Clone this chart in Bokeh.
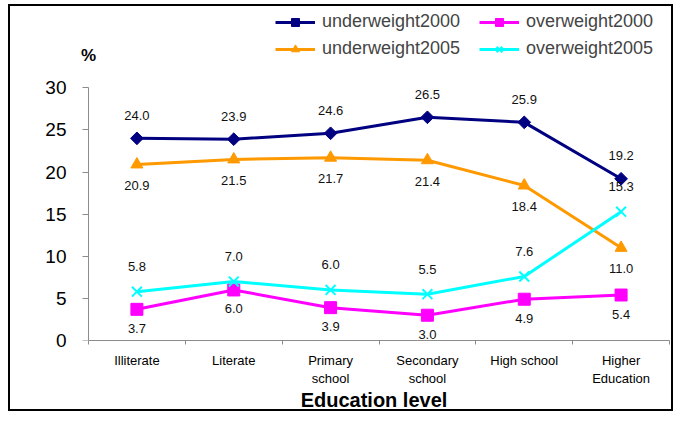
from bokeh.plotting import figure
from bokeh.models import (Range1d, FixedTicker, Legend, LegendItem, ColumnDataSource, LinearAxis)
from bokeh.core.properties import value
from bokeh.embed import file_html
from bokeh.resources import INLINE

categories = ["Illiterate", "Literate", "Primary\nschool", "Secondary\nschool", "High school", "Higher\nEducation"]
underweight2000 = [24.0, 23.9, 24.6, 26.5, 25.9, 19.2]
underweight2005 = [20.9, 21.5, 21.7, 21.4, 18.4, 11.0]
overweight2000 = [3.7, 6.0, 3.9, 3.0, 4.9, 5.4]
overweight2005 = [5.8, 7.0, 6.0, 5.5, 7.6, 15.3]
y_ticks = [0, 5, 10, 15, 20, 25, 30]
unit_label = "%"

FONT = "Liberation Sans"
GRAY = "#8c8c8c"
n = len(categories)
xs = [i + 0.5 for i in range(n)]

FRAME_LEFT = 68          # canvas px of frame's left edge
AXIS_X = 78              # canvas px where x = 0 (the y-axis line) sits
px_per_unit = 581 / n
x_start = -(AXIS_X - FRAME_LEFT) / px_per_unit

p = figure(width=665, height=407, output_backend="svg", toolbar_location=None,
           x_range=Range1d(x_start, n), y_range=Range1d(0, 39.18),
           min_border_left=FRAME_LEFT, min_border_right=6, min_border_top=4, min_border_bottom=70,
           background_fill_color="white", border_fill_color="white")
p.outline_line_color = None
p.styles = {"border": "2px solid black", "margin-left": "8px", "margin-top": "4px"}
p.xgrid.visible = False
p.ygrid.visible = False

# y axis labels (at the frame edge)
ya = p.yaxis[0]
ya.ticker = FixedTicker(ticks=y_ticks, minor_ticks=[])
ya.axis_line_color = None
ya.major_tick_line_color = None
ya.major_tick_in = 0
ya.major_tick_out = 0
ya.major_label_standoff = 12
ya.major_label_text_font = FONT
ya.major_label_text_font_size = "19px"
ya.major_label_text_color = "black"

# y axis line and ticks (at x = 0)
ya2 = LinearAxis(fixed_location=0, ticker=FixedTicker(ticks=y_ticks, minor_ticks=[]),
                 bounds=(0, 30), axis_line_color=GRAY, major_tick_line_color=GRAY,
                 major_tick_in=0, major_tick_out=6, major_label_text_alpha=0,
                 major_label_text_font_size="1px", major_label_standoff=0)
p.add_layout(ya2, "left")

# x axis
xa = p.xaxis[0]
xa.bounds = (0, n)
xa.ticker = FixedTicker(ticks=xs, minor_ticks=list(range(n + 1)))
xa.major_label_overrides = {x: c for x, c in zip(xs, categories)}
xa.axis_line_color = GRAY
xa.major_tick_in = 0
xa.major_tick_out = 0
xa.minor_tick_in = 0
xa.minor_tick_out = 4
xa.minor_tick_line_color = GRAY
xa.major_label_standoff = 8
xa.major_label_text_font = FONT
xa.major_label_text_font_size = "13px"
xa.major_label_text_color = "black"
xa.axis_label = "Education level"
xa.axis_label_text_font = FONT
xa.axis_label_text_font_size = "20px"
xa.axis_label_text_font_style = "bold"
xa.axis_label_text_color = "black"
xa.axis_label_standoff = 0

series = [
    ("underweight2000", underweight2000, "#000080", "square", 9, 45, -23),
    ("underweight2005", underweight2005, "#FF9900", "triangle", 12, 0, 21),
    ("overweight2000", overweight2000, "#FF00FF", "square", 12, 0, 19),
    ("overweight2005", overweight2005, "#00FFFF", "x", 14, 0, -25),
]

items = []
for name, vals, color, marker, size, ang, off in series:
    src = ColumnDataSource(dict(x=xs, y=vals, lab=[f"{v:.1f}" for v in vals]))
    r1 = p.line("x", "y", source=src, line_color=color, line_width=3)
    r2 = p.scatter("x", "y", source=src, marker=marker, size=size, angle=ang, angle_units="deg",
                   fill_color=color, line_color=color, line_width=2 if marker == "x" else 1)
    p.text("x", "y", text="lab", source=src, y_offset=off, text_align="center",
           text_baseline="middle", text_font=value(FONT), text_font_size="13px",
           text_color="#111111")
    items.append(LegendItem(label=name, renderers=[r1, r2]))

legend = Legend(items=items, ncols=2, location=(265 - FRAME_LEFT, 281), padding=0, margin=0,
                spacing=6, glyph_width=40, glyph_height=20, label_height=20,
                label_width=151, label_standoff=7,
                label_text_font=FONT, label_text_font_size="18px",
                border_line_color=None, background_fill_alpha=0)
p.add_layout(legend)

p.text(x=[0], y=[33.88], text=[unit_label], text_align="center", text_baseline="middle",
       text_font=value(FONT), text_font_size="17px", text_font_style="bold",
       text_color="black")

open("out.html", "w").write(file_html(p, INLINE))
